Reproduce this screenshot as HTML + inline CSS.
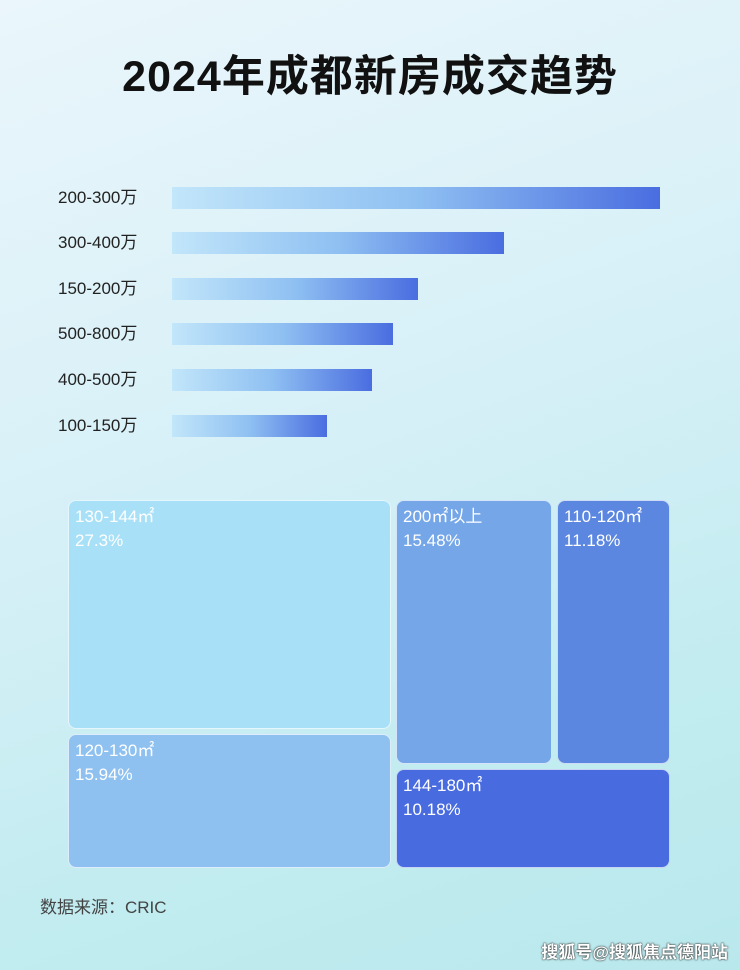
<!DOCTYPE html>
<html><head><meta charset="utf-8"><style>
body{margin:0;width:740px;height:970px;overflow:hidden;position:relative;font-family:"Liberation Sans","Noto Sans CJK SC",sans-serif;
background:linear-gradient(160deg,#eaf6fb 0%,#d6f0f7 45%,#c2ecf0 75%,#b9e8ec 100%);}
.t{position:absolute;left:0;width:740px;top:42px;text-align:center;font-size:43px;font-weight:bold;color:#111;letter-spacing:1px}
.l{position:absolute;left:58px;font-size:17px;color:#222;line-height:22px}
.b{position:absolute;left:172px;height:22px;background:linear-gradient(90deg,#c2e6fa,#8fc0f2 50%,#4a6de0)}
.r{position:absolute;border-radius:8px;border:1px solid rgba(255,255,255,.7);box-sizing:border-box;color:#fff;font-size:17px;line-height:24px;padding:4px 6px}
.s{position:absolute;left:40px;top:893px;font-size:17px;color:#444}
.w{position:absolute;right:12px;top:938px;font-size:17px;color:#fff;font-weight:bold;text-shadow:0 0 2px #333,0 0 1px #000}
</style></head><body>
<div class="t">2024年成都新房成交趋势</div>
<div class="l" style="top:187px">200-300万</div><div class="b" style="top:187px;width:488px"></div>
<div class="l" style="top:232px">300-400万</div><div class="b" style="top:232px;width:332px"></div>
<div class="l" style="top:278px">150-200万</div><div class="b" style="top:278px;width:246px"></div>
<div class="l" style="top:323px">500-800万</div><div class="b" style="top:323px;width:221px"></div>
<div class="l" style="top:369px">400-500万</div><div class="b" style="top:369px;width:200px"></div>
<div class="l" style="top:415px">100-150万</div><div class="b" style="top:415px;width:155px"></div>
<div class="r" style="left:68px;top:500px;width:323px;height:229px;background:#a8e0f8">130-144㎡<br>27.3%</div>
<div class="r" style="left:68px;top:734px;width:323px;height:134px;background:#8fc1f0">120-130㎡<br>15.94%</div>
<div class="r" style="left:396px;top:500px;width:156px;height:264px;background:#74a6e8">200㎡以上<br>15.48%</div>
<div class="r" style="left:557px;top:500px;width:113px;height:264px;background:#5b87e0">110-120㎡<br>11.18%</div>
<div class="r" style="left:396px;top:769px;width:274px;height:99px;background:#486be0">144-180㎡<br>10.18%</div>
<div class="s">数据来源：CRIC</div>
<div class="w">搜狐号@搜狐焦点德阳站</div>
</body></html>
